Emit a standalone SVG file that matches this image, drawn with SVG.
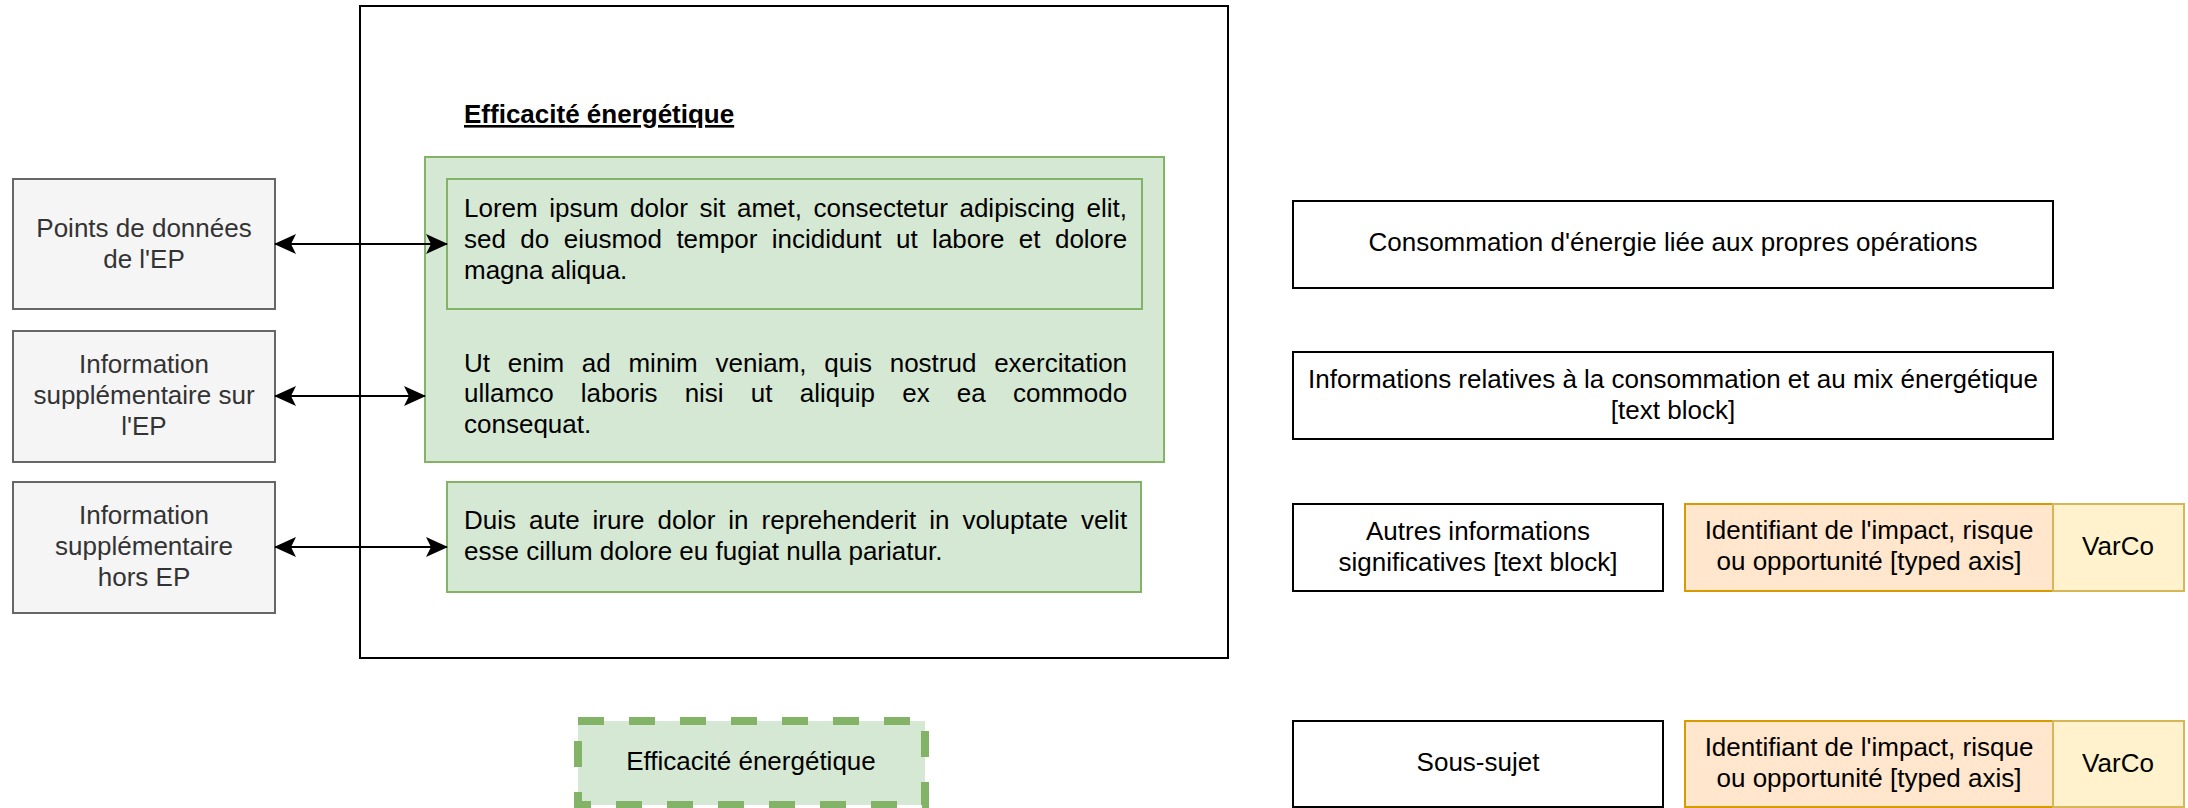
<svg xmlns="http://www.w3.org/2000/svg" width="2188" height="808" viewBox="0 0 2188 808">
<defs>
<marker id="arr" markerUnits="userSpaceOnUse" viewBox="0 0 22 22" refX="21" refY="11" markerWidth="22" markerHeight="22" orient="auto-start-reverse">
<path d="M0,1 L22,11 L0,21 L5,11 Z" fill="#000"/>
</marker>
<style>
text{font-family:"Liberation Sans",Arial,sans-serif;font-size:26px;fill:#000}
.c{text-anchor:middle}
.grey rect{fill:#f5f5f5;stroke:#666;stroke-width:2}
.grey text{fill:#333}
.green{fill:#d5e8d4;stroke:#82b366;stroke-width:2}
.plain{fill:#fff;stroke:#000;stroke-width:2}
.orange{fill:#ffe6cc;stroke:#d79b00;stroke-width:2}
.yellow{fill:#fff2cc;stroke:#d6b656;stroke-width:2}
.link{stroke:#000;stroke-width:2;fill:none;marker-start:url(#arr);marker-end:url(#arr)}
</style>
</defs>
<rect width="2188" height="808" fill="#fff"/>

<g id="container">
<rect x="360" y="6" width="868" height="652" fill="#fff" stroke="#000" stroke-width="2"/>
<text x="464" y="123" font-weight="bold" text-decoration="underline">Efficacité énergétique</text>
</g>

<g id="green-group">
<rect class="green" x="425" y="157" width="739" height="305"/>
<text x="464" y="372" word-spacing="10.5">Ut enim ad minim veniam, quis nostrud exercitation</text>
<text x="464" y="402" word-spacing="20">ullamco laboris nisi ut aliquip ex ea commodo</text>
<text x="464" y="433">consequat.</text>
</g>

<g id="lorem">
<rect class="green" x="447" y="179" width="695" height="130"/>
<text x="464" y="217" word-spacing="4.3">Lorem ipsum dolor sit amet, consectetur adipiscing elit,</text>
<text x="464" y="248" word-spacing="7.2">sed do eiusmod tempor incididunt ut labore et dolore</text>
<text x="464" y="279">magna aliqua.</text>
</g>

<g id="duis">
<rect class="green" x="447" y="482" width="694" height="110"/>
<text x="464" y="529" word-spacing="5.75">Duis aute irure dolor in reprehenderit in voluptate velit</text>
<text x="464" y="560">esse cillum dolore eu fugiat nulla pariatur.</text>
</g>

<g id="points-ep" class="grey">
<rect x="13" y="179" width="262" height="130"/>
<text class="c" x="144" y="237">Points de données</text>
<text class="c" x="144" y="268">de l'EP</text>
</g>

<g id="info-sur-ep" class="grey">
<rect x="13" y="331" width="262" height="131"/>
<text class="c" x="144" y="373">Information</text>
<text class="c" x="144" y="404">supplémentaire sur</text>
<text class="c" x="144" y="435">l'EP</text>
</g>

<g id="info-hors-ep" class="grey">
<rect x="13" y="482" width="262" height="131"/>
<text class="c" x="144" y="524">Information</text>
<text class="c" x="144" y="555">supplémentaire</text>
<text class="c" x="144" y="586">hors EP</text>
</g>

<g id="connectors">
<line class="link" x1="275" y1="244" x2="447" y2="244"/>
<line class="link" x1="275" y1="396" x2="425" y2="396"/>
<line class="link" x1="275" y1="547" x2="447" y2="547"/>
</g>

<g id="efficacite-dashed">
<rect x="578" y="721" width="347" height="84" fill="#d5e8d4" stroke="#82b366" stroke-width="8" stroke-dasharray="26 25"/>
<text class="c" x="751" y="770">Efficacité énergétique</text>
</g>

<g id="consommation">
<rect class="plain" x="1293" y="201" width="760" height="87"/>
<text class="c" x="1673" y="251">Consommation d'énergie liée aux propres opérations</text>
</g>

<g id="informations-relatives">
<rect class="plain" x="1293" y="352" width="760" height="87"/>
<text class="c" x="1673" y="388">Informations relatives à la consommation et au mix énergétique</text>
<text class="c" x="1673" y="419">[text block]</text>
</g>

<g id="autres-informations">
<rect class="plain" x="1293" y="504" width="370" height="87"/>
<text class="c" x="1478" y="540">Autres informations</text>
<text class="c" x="1478" y="571">significatives [text block]</text>
</g>

<g id="identifiant-1">
<rect class="orange" x="1685" y="504" width="368" height="87"/>
<text class="c" x="1869" y="539">Identifiant de l'impact, risque</text>
<text class="c" x="1869" y="570">ou opportunité [typed axis]</text>
</g>

<g id="varco-1">
<rect class="yellow" x="2053" y="504" width="131" height="87"/>
<text class="c" x="2118" y="555">VarCo</text>
</g>

<g id="sous-sujet">
<rect class="plain" x="1293" y="721" width="370" height="86"/>
<text class="c" x="1478" y="771">Sous-sujet</text>
</g>

<g id="identifiant-2">
<rect class="orange" x="1685" y="721" width="368" height="86"/>
<text class="c" x="1869" y="756">Identifiant de l'impact, risque</text>
<text class="c" x="1869" y="787">ou opportunité [typed axis]</text>
</g>

<g id="varco-2">
<rect class="yellow" x="2053" y="721" width="131" height="86"/>
<text class="c" x="2118" y="772">VarCo</text>
</g>
</svg>
